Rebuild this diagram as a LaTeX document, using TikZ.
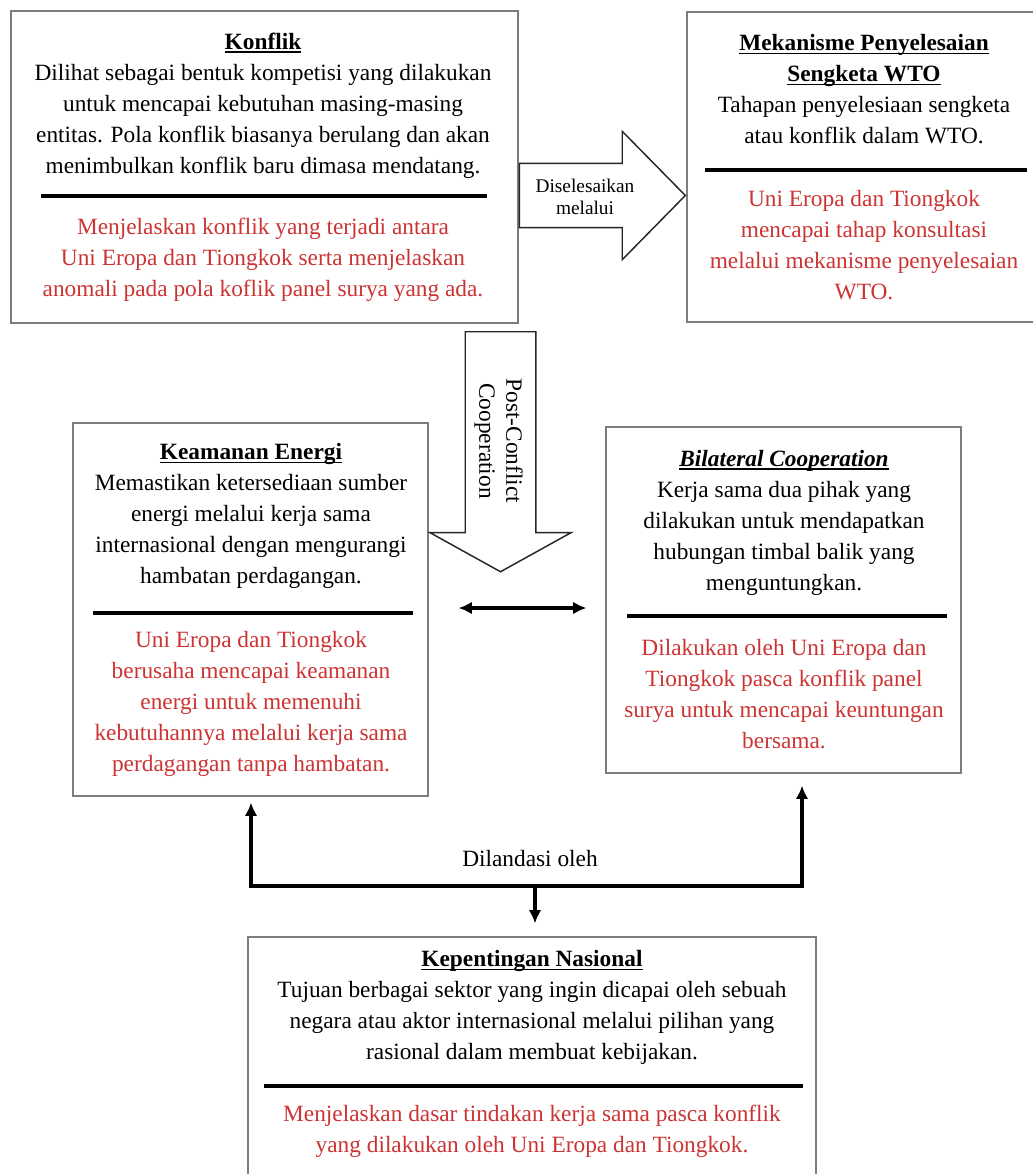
\documentclass[tikz,border=0pt]{standalone}
\usepackage{fontspec}
\setmainfont{Liberation Serif}
\usetikzlibrary{arrows.meta,shapes.arrows,calc}

\definecolor{notered}{RGB}{204,52,52}
\definecolor{boxgray}{RGB}{125,125,125}

\newcommand{\heading}[1]{\setbox0\hbox{\bfseries #1}\rlap{\rule[-2.6pt]{\wd0}{1.3pt}}\box0}

\begin{document}
\begin{tikzpicture}[x=0.75pt,y=-0.75pt,
  box/.style={draw=boxgray,line width=0.9pt,inner sep=0pt},
  body/.style={align=center,inner sep=0pt,font=\fontsize{17.5}{23.25}\selectfont},
  note/.style={body,text=notered},
  bar/.style={line width=2.3pt},
  blockarrow/.style={single arrow,draw=black!85,line width=1.1pt,fill=white,inner xsep=0pt,single arrow head indent=0pt},
  link/.style={line width=2.6pt,-{Latex[length=10pt,width=9.5pt]}},
  dual/.style={line width=2.6pt,{Latex[length=10pt,width=9.5pt]}-{Latex[length=10pt,width=9.5pt]}}]

\useasboundingbox (0,0) rectangle (1032,1174);

% konflik
\node[box,minimum width=380.25pt,minimum height=234pt] (konflik) at (264.5,167) {};
\node[body] (konflikText) at (263,105.8) {\heading{Konflik}\\
  Dilihat sebagai bentuk kompetisi yang dilakukan\\
  untuk mencapai kebutuhan masing-masing\\
  entitas. Pola konflik biasanya berulang dan akan\\
  menimbulkan konflik baru dimasa mendatang.};
\draw[bar] (41,196) -- (487,196);
\node[note] (konflikNote) at (263,260) {Menjelaskan konflik yang terjadi antara\\
  Uni Eropa dan Tiongkok serta menjelaskan\\
  anomali pada pola koflik panel surya yang ada.};

% mekanisme WTO
\node[box,minimum width=270pt,minimum height=232.5pt] (wto) at (867,167) {};
\node[body] (wtoText) at (864,89.5) {\heading{Mekanisme Penyelesaian}\\
  \heading{Sengketa WTO}\\
  Tahapan penyelesiaan sengketa\\
  atau konflik dalam WTO.};
\draw[bar] (705,170) -- (1027,170);
\node[note] (wtoNote) at (864,245.5) {Uni Eropa dan Tiongkok\\
  mencapai tahap konsultasi\\
  melalui mekanisme penyelesaian\\
  WTO.};

% keamanan energi
\node[box,minimum width=266.25pt,minimum height=279.75pt] (energi) at (250.5,609.5) {};
\node[body] (energiText) at (251,516.4) {\heading{Keamanan Energi}\\
  Memastikan ketersediaan sumber\\
  energi melalui kerja sama\\
  internasional dengan mengurangi\\
  hambatan perdagangan.};
\draw[bar] (93,613) -- (413,613);
\node[note] (energiNote) at (251,704) {Uni Eropa dan Tiongkok\\
  berusaha mencapai keamanan\\
  energi untuk memenuhi\\
  kebutuhannya melalui kerja sama\\
  perdagangan tanpa hambatan.};

% bilateral cooperation
\node[box,minimum width=266.25pt,minimum height=259.5pt] (bilateral) at (783.5,600) {};
\node[body] (bilateralText) at (784,523) {\heading{\itshape Bilateral Cooperation}\\
  Kerja sama dua pihak yang\\
  dilakukan untuk mendapatkan\\
  hubungan timbal balik yang\\
  menguntungkan.};
\draw[bar] (627,616) -- (947,616);
\node[note] (bilateralNote) at (784,694) {Dilakukan oleh Uni Eropa dan\\
  Tiongkok pasca konflik panel\\
  surya untuk mencapai keuntungan\\
  bersama.};

% kepentingan nasional
\node[box,minimum width=426pt,minimum height=189.75pt] (nasional) at (532,1063.5) {};
\node[body] (nasionalText) at (532,1007.75) {\heading{Kepentingan Nasional}\\
  Tujuan berbagai sektor yang ingin dicapai oleh sebuah\\
  negara atau aktor internasional melalui pilihan yang\\
  rasional dalam membuat kebijakan.};
\draw[bar] (264,1086) -- (803,1086);
\node[note] (nasionalNote) at (532,1131.5) {Menjelaskan dasar tindakan kerja sama pasca konflik\\
  yang dilakukan oleh Uni Eropa dan Tiongkok.};

% block arrows
\node[blockarrow,minimum height=124.5pt,inner ysep=23.6pt,single arrow head extend=24pt,
  single arrow tip angle=91,anchor=tail] (settle) at ($(konflik.east)+(0,28.5)$) {};
\node[body,font=\fontsize{14.5}{16.5}\selectfont] (settleLabel) at (585,197) {Diselesaikan\\melalui};

\node[blockarrow,minimum height=180pt,inner ysep=25.9pt,single arrow head extend=26.6pt,
  single arrow tip angle=122,rotate=-90,anchor=tail] (post) at (500.5,331) {};
\node[body,rotate=-90,font=\fontsize{17.5}{20.25}\selectfont] (postLabel) at (498.5,441) {Post-Conflict\\Cooperation};

% connectors
\coordinate (midrow) at (0,608);
\draw[dual,shorten <=22.5pt,shorten >=14.25pt] (energi.east |- midrow) -- (bilateral.west |- midrow);

\coordinate (hub) at (535,886);
\coordinate (lfoot) at (251,886);
\coordinate (rfoot) at (802,886);
\draw[dual,shorten <=4.5pt,shorten >=9pt] (lfoot |- energi.south) -- (lfoot) -- (rfoot) -- (rfoot |- bilateral.south);
\draw[link,shorten >=9.75pt] (hub) -- (hub |- nasional.north);
\node[body] (basis) at (530,859) {Dilandasi oleh};

\end{tikzpicture}
\end{document}
